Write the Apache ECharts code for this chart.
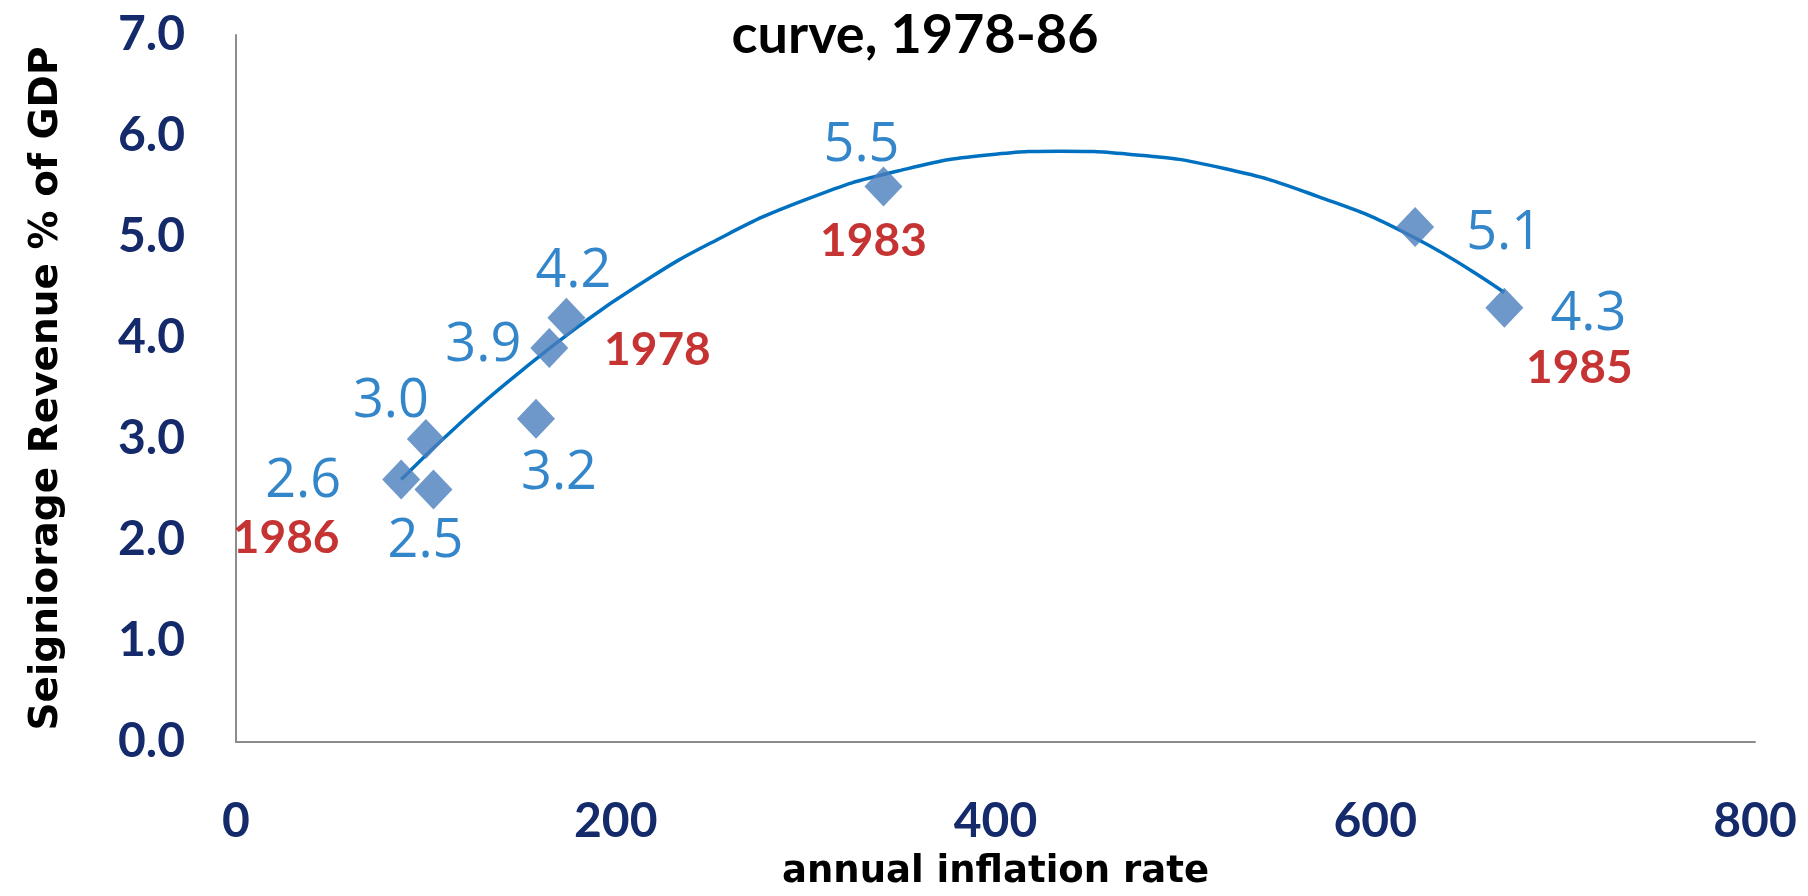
<!DOCTYPE html>
<html>
<head>
<meta charset="utf-8">
<script src="https://cdn.jsdelivr.net/npm/echarts@6/dist/echarts.min.js"></script>
<style>html,body{margin:0;padding:0;background:#fff}#c{width:1808px;height:896px}</style>
</head>
<body>
<div id="c"></div>
<script>
// ---- data ----
const inflation = [87, 104, 100, 158, 165, 174, 341, 621, 668];
const seigniorage = [2.6, 2.5, 3.0, 3.2, 3.9, 4.2, 5.5, 5.1, 4.3];
const yearTags = ['1986', '', '', '', '', '1978', '1983', '', '1985'];
const trendX = [87, 120, 150, 180, 210, 250, 300, 350, 400, 434, 470, 520, 570, 620, 668];
const trendY = [2.60, 3.19, 3.67, 4.11, 4.50, 4.94, 5.37, 5.66, 5.82, 5.85, 5.82, 5.68, 5.40, 5.00, 4.45];
const xTicks = [0, 200, 400, 600, 800];
const yTicks = [0, 1, 2, 3, 4, 5, 6, 7];
const titleText = 'curve, 1978-86';
const xName = 'annual inflation rate';
const yName = 'Seigniorage Revenue % of GDP';

// ---- label placement (style) ----
const valueOffsets = [[-98, 2], [-8, 52], [-35, -37], [23, 55], [-66, -2], [7, -46], [-22, -41], [89, 7], [84, 7]];
const yearOffsets = [[-115, 59], null, null, null, null, [91, 32], [-10, 55], null, [75, 60]];

const pts = inflation.map((x, i) => ({
  value: [x, seigniorage[i]],
  label: { offset: valueOffsets[i] }
}));
const yearPts = inflation.map((x, i) => ({
  value: [x, seigniorage[i]],
  label: { show: yearTags[i] !== '', formatter: yearTags[i], offset: yearOffsets[i] || [0, 0] }
}));
const trend = trendX.map((x, i) => [x, trendY[i]]);

const navy = '#142a6b';
const chart = echarts.init(document.getElementById('c'));
chart.setOption({
  animation: false,
  backgroundColor: '#fff',
  title: {
    text: titleText, left: 910, top: 4, textAlign: 'center',
    textStyle: { fontFamily: 'Lato', fontWeight: 'bold', fontSize: 54, color: '#000' }
  },
  grid: { left: 236, right: 53, top: 35, bottom: 149 },
  xAxis: {
    type: 'value', min: xTicks[0], max: xTicks[xTicks.length - 1], interval: 200,
    name: xName, nameLocation: 'middle', nameGap: 112,
    nameTextStyle: { fontFamily: 'DejaVu Sans', fontWeight: 'bold', fontSize: 37, color: '#000' },
    axisLine: { show: true, lineStyle: { color: '#8c8c8c', width: 2 } },
    axisTick: { show: false }, splitLine: { show: false },
    axisLabel: { margin: 56, fontFamily: 'Lato', fontWeight: 'bold', fontSize: 48, color: navy }
  },
  yAxis: {
    type: 'value', min: yTicks[0], max: yTicks[yTicks.length - 1], interval: 1,
    name: yName, nameLocation: 'middle', nameGap: 170, nameRotate: 90,
    nameTextStyle: { fontFamily: 'DejaVu Sans', fontWeight: 'bold', fontSize: 39, color: '#000' },
    axisLine: { show: true, lineStyle: { color: '#8c8c8c', width: 2 } },
    axisTick: { show: false }, splitLine: { show: false },
    axisLabel: { margin: 51, formatter: v => v.toFixed(1), fontFamily: 'Lato', fontWeight: 'bold', fontSize: 48, color: navy }
  },
  series: [
    {
      type: 'scatter', data: pts, symbol: 'diamond', symbolSize: [38, 40], z: 3,
      itemStyle: { color: '#4a7ebb' },
      label: { show: true, position: 'inside', formatter: p => p.value[1].toFixed(1),
        fontFamily: 'Open Sans', fontSize: 54, color: '#0068bb' }
    },
    {
      type: 'scatter', data: yearPts, symbol: 'circle', symbolSize: 2, z: 4,
      itemStyle: { color: 'rgba(0,0,0,0)' },
      label: { position: 'inside', fontFamily: 'Lato', fontWeight: 'bold', fontSize: 46, color: '#b80000' }
    },
    {
      type: 'line', data: trend, smooth: true, showSymbol: false, symbol: 'none', z: 2,
      lineStyle: { color: '#0070c0', width: 3.5 }
    }
  ]
});
</script>
</body>
</html>
